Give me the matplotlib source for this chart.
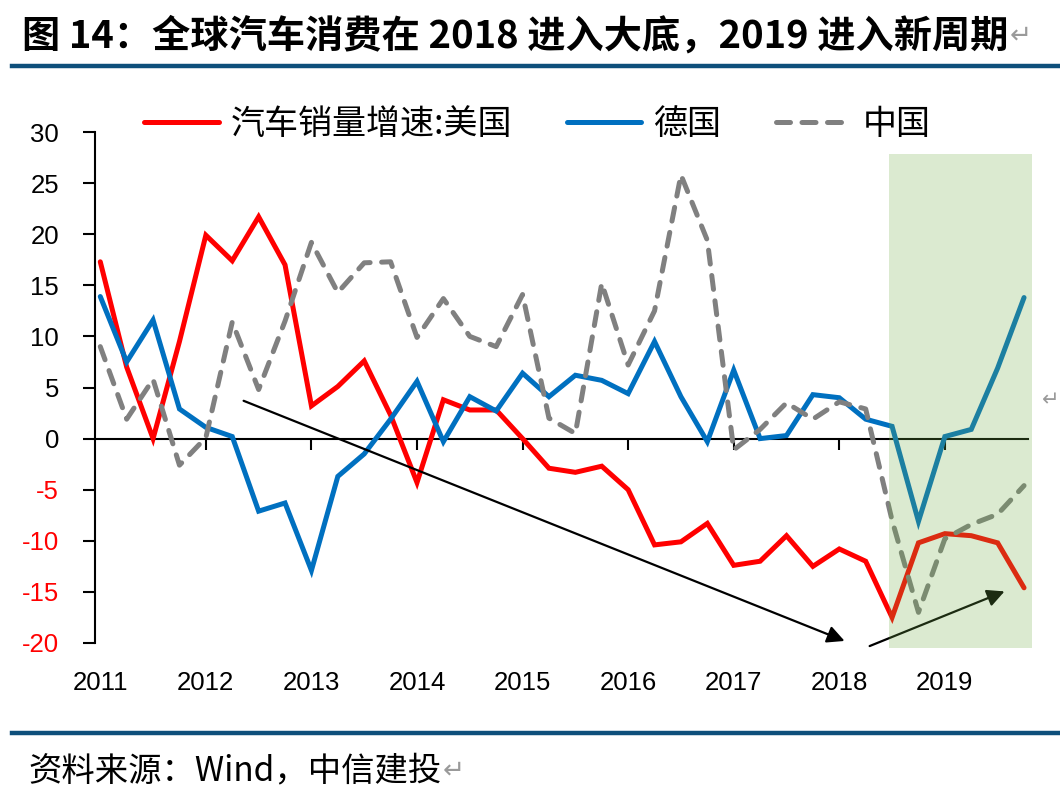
import numpy as np
import matplotlib
matplotlib.use('Agg')
import matplotlib.pyplot as plt
from matplotlib.patches import Rectangle
from matplotlib.lines import Line2D
import matplotlib.transforms as mtransforms

plt.rcParams['font.family'] = ['Liberation Sans', 'Noto Sans CJK SC', 'DejaVu Sans']

# ---------------- data (quarterly, 2011Q1 - 2019Q4) ----------------
years = ['2011', '2012', '2013', '2014', '2015', '2016', '2017', '2018', '2019']
quarters = [f'{y}Q{q}' for y in years for q in range(1, 5)]

us = [17.3, 7.0, 0.0, 9.5, 19.9, 17.4, 21.7, 17.0, 3.2, 5.1, 7.6, 2.3,
      -4.3, 3.8, 2.8, 2.8, 0.0, -2.9, -3.3, -2.7, -5.0, -10.4, -10.1, -8.3,
      -12.4, -12.0, -9.5, -12.5, -10.8, -12.0, -17.5, -10.2, -9.3, -9.5, -10.2, -14.6]
de = [13.9, 7.5, 11.6, 2.9, 1.1, 0.2, -7.1, -6.3, -12.9, -3.7, -1.5, 1.9,
      5.6, -0.3, 4.1, 2.7, 6.4, 4.1, 6.2, 5.7, 4.4, 9.5, 4.1, -0.3,
      6.7, 0.0, 0.3, 4.3, 4.0, 1.9, 1.2, -8.1, 0.2, 0.9, 6.9, 13.8]
cn = [9.0, 1.9, 5.8, -2.6, 0.1, 11.4, 4.8, 11.5, 19.2, 14.3, 17.2, 17.3,
      9.9, 13.7, 10.0, 9.0, 14.1, 2.0, 0.5, 15.2, 7.2, 12.5, 25.8, 19.4,
      -1.1, 0.9, 3.5, 1.9, 3.6, 2.9, -8.0, -17.0, -9.8, -8.4, -7.4, -4.6]

series_labels = ['汽车销量增速:美国', '德国', '中国']
yticks = [-20, -15, -10, -5, 0, 5, 10, 15, 20, 25, 30]

title = '图 14：全球汽车消费在 2018 进入大底，2019 进入新周期'
source = '资料来源：Wind，中信建投'

# ---------------- figure ----------------
W, H = 1060, 802
fig = plt.figure(figsize=(W / 100, H / 100), dpi=100)
ax = fig.add_axes([95 / W, (H - 643) / H, 933 / W, 511 / H])

x = np.arange(len(quarters))
cjk = ['Noto Sans CJK SC', 'DejaVu Sans']

l_us, = ax.plot(x, us, color='#FF0000', lw=3.6, solid_capstyle='round',
                solid_joinstyle='miter', zorder=3, label=series_labels[0])
l_de, = ax.plot(x, de, color='#0070C0', lw=3.6, solid_capstyle='round',
                solid_joinstyle='miter', zorder=3, label=series_labels[1])
l_cn, = ax.plot(x, cn, color='#808080', lw=3.6, linestyle=(0, (2.8, 2.3)),
                dash_capstyle='round', zorder=3, label=series_labels[2])

# trend arrows
ax.annotate('', xy=(28.2, -19.8), xytext=(5.43, 3.7),
            arrowprops=dict(arrowstyle='-|>', color='black', lw=1.6,
                            mutation_scale=26, shrinkA=0, shrinkB=0),
            annotation_clip=False, zorder=4)
ax.annotate('', xy=(34.26, -14.95), xytext=(29.15, -20.3),
            arrowprops=dict(arrowstyle='-|>', color='black', lw=1.6,
                            mutation_scale=26, shrinkA=0, shrinkB=0),
            annotation_clip=False, zorder=4)

# shaded 2019 region (drawn over the lines)
rect = Rectangle((29.9, -20.45), 35.3 - 29.9, 27.8 + 20.45,
                 facecolor='#70AD47', alpha=0.25, edgecolor='none',
                 zorder=5, clip_on=False)
ax.add_patch(rect)

ax.set_xlim(-0.2, 35.15)
ax.set_ylim(-20, 30)

# spines
for s in ['top', 'right']:
    ax.spines[s].set_visible(False)
ax.spines['left'].set_linewidth(1.5)
ax.spines['bottom'].set_position(('data', 0))
ax.spines['bottom'].set_linewidth(1.5)

ax.set_yticks(yticks)
ax.set_yticklabels([str(v) for v in yticks])
for lab, v in zip(ax.get_yticklabels(), yticks):
    lab.set_color('#FF0000' if v < 0 else 'black')
    lab.set_fontsize(18.5)
ax.tick_params(axis='y', direction='out', length=9, width=1.5, pad=17)

ax.set_xticks(x[4::4])
ax.tick_params(axis='x', direction='out', length=8, width=1.5, labelbottom=False)

trans = mtransforms.blended_transform_factory(ax.transData, ax.transAxes)
for i, yr in enumerate(years):
    ax.text(x[i * 4], (643 - 683) / 511, yr, transform=trans, ha='center',
            va='center', fontsize=18.5)

leg = ax.legend(handles=[l_us, l_de, l_cn], loc='center',
                bbox_to_anchor=(0.474, 1.014), ncol=3, frameon=False,
                prop=dict(family=cjk, size=24.5), handlelength=2.2,
                columnspacing=1.6, handletextpad=0.35)

# title, rules, source
t = fig.text(22 / W, 1 - 36 / H, title, fontsize=27.5, fontweight='bold',
             family=cjk, ha='left', va='center')
fig.add_artist(Line2D([12 / W, 1.0], [1 - 66 / H] * 2, color='#0E4F7B', lw=3.2))
fig.add_artist(Line2D([12 / W, 1.0], [1 - 733 / H] * 2, color='#0E4F7B', lw=3.2))
s = fig.text(28 / W, 1 - 771 / H, source, fontsize=24, style='italic',
             family=cjk, ha='left', va='center')

fig.canvas.draw()
r = fig.canvas.get_renderer()
for txt, yy in ((t, 36), (s, 771)):
    bb = txt.get_window_extent(r)
    fig.text((bb.x1 + 1) / W, 1 - yy / H, '↵', fontsize=19, color='#9a9a9a',
             family='DejaVu Sans', ha='left', va='center')
fig.text(1042 / W, 1 - 400 / H, '↵', fontsize=15, color='#9a9a9a',
         family='DejaVu Sans', ha='left', va='center')

fig.savefig('out.png', dpi=100)
